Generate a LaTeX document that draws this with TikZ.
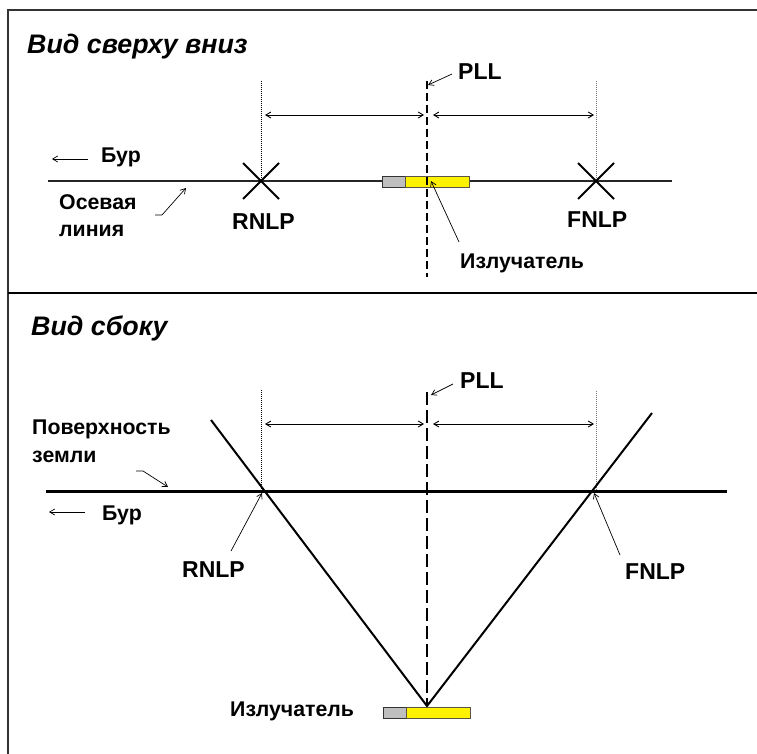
\documentclass[tikz,border=0pt]{standalone}
\usepackage{fontspec}
\setmainfont{Liberation Sans}
\usetikzlibrary{arrows.meta}
\tikzset{
  lbl/.style={anchor=west,inner sep=0pt,font=\bfseries\fontsize{21.3}{21.3}\selectfont},
  big/.style={anchor=west,inner sep=0pt,font=\bfseries\fontsize{23}{23}\selectfont},
  ttl/.style={anchor=west,inner sep=0pt,font=\bfseries\itshape\fontsize{26.8}{26.8}\selectfont},
  frameline/.style={line width=1.4pt,draw=black!80},
  sep/.style={line width=2pt},
  axisline/.style={line width=1.4pt,draw=black!85},
  groundline/.style={line width=3pt},
  cone/.style={line width=2pt},
  cross/.style={line width=2pt},
  pll/.style={line width=1.7pt,dash pattern=on 8pt off 4pt},
  guide/.style={line width=0.7pt,dash pattern=on 1pt off 1pt},
  guidegray/.style={guide,draw=black!55,line width=1pt},
  dim/.style={line width=0.9pt,{Straight Barb[length=5pt,width=6pt]}-{Straight Barb[length=5pt,width=6pt]}},
  call/.style={line width=0.7pt,-{Straight Barb[length=5pt,width=6pt]}},
  grayb/.style={draw=black!80,fill=black!25,line width=0.9pt},
  yellowb/.style={draw=black!75!yellow,fill=yellow,line width=0.9pt}
}
\begin{document}
\begin{tikzpicture}[x=1pt,y=-1pt]
\useasboundingbox (0,0) rectangle (757,754);
% frame
\coordinate (fTL) at (8,10); \coordinate (fTR) at (757,10);
\coordinate (fBL) at (8,754); \coordinate (dL) at (8,293); \coordinate (dR) at (757,293);
\draw[frameline] (fBL) -- (fTL) -- (fTR);
\draw[sep] (dL) -- (dR);
% --- top view
\node[ttl] (t1) at (27,46.5) {Вид сверху вниз};
\coordinate (axA) at (48,181); \coordinate (axB) at (672,181);
\draw[axisline] (axA) -- (axB);
\coordinate (rT) at (261,81); \coordinate (rX) at (261,181);
\coordinate (fT) at (596,81); \coordinate (fX) at (596,181);
\draw[guide] (rT) -- (rX);
\draw[guidegray] (fT) -- (fX);
\draw[cross] (rX)+(-18,-18) -- +(18,18) (rX)+(-18,18) -- +(18,-18);
\draw[cross] (fX)+(-18,-18) -- +(18,18) (fX)+(-18,18) -- +(18,-18);
\node[grayb,minimum width=23pt,minimum height=11pt,inner sep=0pt] (eg1) at (393.5,181.5) {};
\node[yellowb,minimum width=64pt,minimum height=11pt,inner sep=0pt] (ey1) at (437,181.5) {};
\coordinate (pT) at (427,81); \coordinate (pB) at (427,277);
\draw[pll] (pT) -- (pB);
\coordinate (d1a) at (265,115); \coordinate (d1b) at (424,115);
\coordinate (d2a) at (433,115); \coordinate (d2b) at (594,115);
\draw[dim] (d1a) -- (d1b);
\draw[dim] (d2a) -- (d2b);
\node[big] (pll1) at (458,71.5) {PLL};
\coordinate (pa1) at (452,74); \coordinate (pa2) at (428,85);
\draw[call] (pa1) -- (pa2);
\node[lbl] (bur1) at (101,157) {Бур};
\coordinate (ba1) at (88,159); \coordinate (ba2) at (52,159);
\draw[call] (ba1) -- (ba2);
\node[lbl,align=left,font=\bfseries\fontsize{21.3}{27}\selectfont] (os) at (59,216) {Осевая\\линия};
\coordinate (oa1) at (155,215); \coordinate (oa2) at (162,215); \coordinate (oa3) at (186,188);
\draw[call] (oa1) -- (oa2) -- (oa3);
\node[big] (rn1) at (232,222) {RNLP};
\node[big] (fn1) at (567,220) {FNLP};
\node[lbl] (iz1) at (460,263) {Излучатель};
\coordinate (ia1) at (459,242); \coordinate (ia2) at (431,181);
\draw[call] (ia1) -- (ia2);
% --- side view
\node[ttl] (t2) at (31,328) {Вид сбоку};
\coordinate (gA) at (46,491); \coordinate (gB) at (727,491);
\coordinate (cL) at (211,420); \coordinate (cV) at (427,706); \coordinate (cR) at (652,413);
\coordinate (r2T) at (261,390); \coordinate (r2B) at (261,490);
\coordinate (f2T) at (596,391); \coordinate (f2B) at (596,490);
\draw[guide] (r2T) -- (r2B);
\draw[guidegray] (f2T) -- (f2B);
\draw[groundline] (gA) -- (gB);
\coordinate (p2T) at (427,392);
\draw[pll,dash pattern=on 13pt off 5pt] (p2T) -- (cV);
\draw[cone] (cL) -- (cV) -- (cR);
\node[grayb,minimum width=23pt,minimum height=11pt,inner sep=0pt] (eg2) at (394.5,712.5) {};
\node[yellowb,minimum width=64pt,minimum height=11pt,inner sep=0pt] (ey2) at (438,712.5) {};
\coordinate (d3a) at (265,424); \coordinate (d3b) at (424,424);
\coordinate (d4a) at (433,424); \coordinate (d4b) at (594,424);
\draw[dim] (d3a) -- (d3b);
\draw[dim] (d4a) -- (d4b);
\node[big] (pll2) at (460,380.5) {PLL};
\coordinate (qa1) at (453,384); \coordinate (qa2) at (431,395);
\draw[call] (qa1) -- (qa2);
\node[lbl,align=left,font=\bfseries\fontsize{21.3}{28}\selectfont] (pz) at (32,441) {Поверхность\\земли};
\coordinate (ga1) at (136,471); \coordinate (ga2) at (143,471); \coordinate (ga3) at (168,487);
\draw[call] (ga1) -- (ga2) -- (ga3);
\node[lbl] (bur2) at (102,515) {Бур};
\coordinate (bb1) at (85,512); \coordinate (bb2) at (49,512);
\draw[call] (bb1) -- (bb2);
\node[big] (rn2) at (182,570) {RNLP};
\coordinate (ra1) at (231,551); \coordinate (ra2) at (262,493);
\draw[call] (ra1) -- (ra2);
\node[big] (fn2) at (625,572) {FNLP};
\coordinate (fa1) at (620,555); \coordinate (fa2) at (594,493);
\draw[call] (fa1) -- (fa2);
\node[lbl] (iz2) at (230,711) {Излучатель};
\end{tikzpicture}
\end{document}
